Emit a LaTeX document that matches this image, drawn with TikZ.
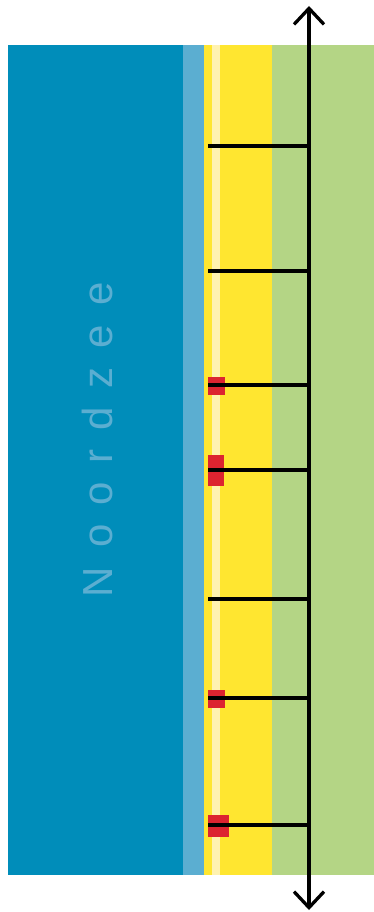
\documentclass[tikz,border=0pt]{standalone}
\usepackage{fontspec}
\usetikzlibrary{arrows.meta}
\newfontfamily\seafont[LetterSpace=45]{Liberation Sans}
\definecolor{sea}{RGB}{0,141,186}
\definecolor{surf}{RGB}{91,174,209}
\definecolor{sand}{RGB}{255,230,48}
\definecolor{wetsand}{RGB}{255,242,176}
\definecolor{dune}{RGB}{180,213,133}
\definecolor{marker}{RGB}{220,36,48}
\tikzset{
  zone/.style={fill=#1,draw=none},
  raai/.style={draw=black,line width=3.3pt},
  axis/.style={draw=black,line width=3.3pt,{Straight Barb[length=16pt,width=30pt]}-{Straight Barb[length=16pt,width=30pt]}},
  meetpunt/.style={fill=marker,draw=none}
}
\begin{document}
\begin{tikzpicture}[x=1pt,y=-1pt]
\path[use as bounding box] (0,0) rectangle (374,912);
\path[fill=white] (0,0) rectangle (374,912);
% strips of the coast, sea to dunes
\path[zone=sea] (8,45) rectangle (183,875);
\path[zone=surf] (183,45) rectangle (204,875);
\path[zone=sand] (204,45) rectangle (272,875);
\path[zone=wetsand] (212,45) rectangle (220,875);
\path[zone=dune] (272,45) rectangle (374,875);
\node[inner sep=0pt,outer sep=0pt,anchor=west,rotate=90,text=surf,font=\seafont\fontsize{42}{50}\selectfont] (noordzee) at (97,597) {Noordzee};
% markers
\path[meetpunt] (208,377) rectangle (225,395);
\path[meetpunt] (208,455) rectangle (224,486);
\path[meetpunt] (208,690) rectangle (225,708);
\path[meetpunt] (208,815) rectangle (229,837);
% axis and transects
\coordinate (top) at (309,6);
\coordinate (bottom) at (309,910);
\draw[axis] (bottom) -- (top);
\foreach \y [count=\i] in {146,271,385,470,599,698,825} {
  \coordinate (r\i) at (208,\y);
  \draw[raai] (r\i) -- (309,\y);
}
\end{tikzpicture}
\end{document}
